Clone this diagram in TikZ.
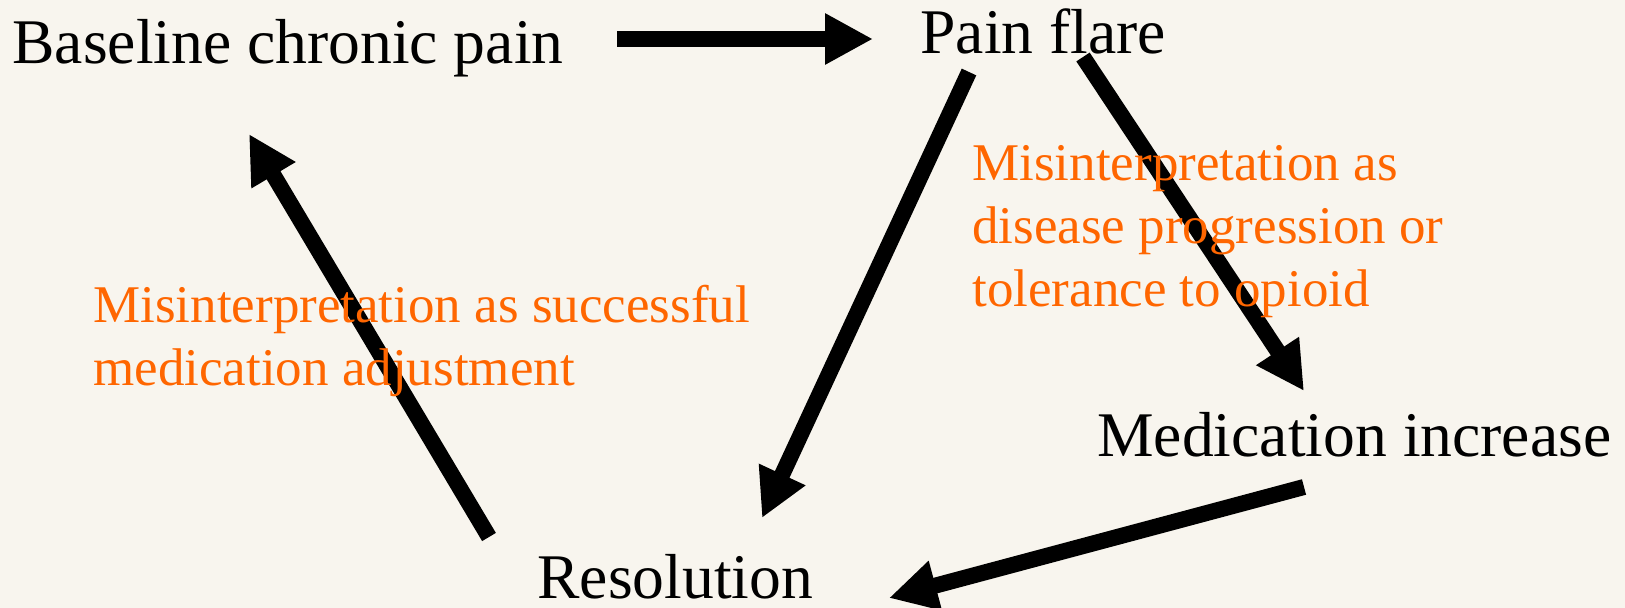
\documentclass[tikz,border=0pt]{standalone}
\usepackage{fontspec}
\setmainfont{Liberation Serif}
\usepackage{tikz}
\usetikzlibrary{arrows.meta}
\definecolor{bgcream}{HTML}{F8F5EE}
\definecolor{misorange}{HTML}{FF6600}

\begin{document}
\begin{tikzpicture}[x=0.5pt,y=-0.5pt,
    stage/.style={anchor=base west,inner sep=0pt,font=\fontsize{31.8}{38}\selectfont},
    note/.style={anchor=base west,inner sep=0pt,align=left,text=misorange,font=\fontsize{26.5}{31.5}\selectfont},
    flow/.style={line width=8pt,-{Triangle[length=24pt,width=24pt]}}]
    \fill[bgcream] (0,0) rectangle (1625,608);
    \useasboundingbox (0,0) rectangle (1625,608);

    \node[stage] (baseline) at (12,64) {Baseline chronic pain};
    \node[stage] (flare) at (920,54) {Pain flare};
    \node[stage] (increase) at (1097,456) {Medication increase};
    \node[stage] (resolution) at (537,598) {Resolution};

    \coordinate (baselineOut) at (617,39);
    \coordinate (flareIn) at (873,39);
    \coordinate (flareOutL) at (969,72);
    \coordinate (flareOutR) at (1083,57);
    \coordinate (increaseIn) at (1304,391);
    \coordinate (increaseOut) at (1304,487);
    \coordinate (resolutionInT) at (762,518);
    \coordinate (resolutionInR) at (889,598);
    \coordinate (resolutionOut) at (489,537);
    \coordinate (baselineIn) at (249,134);

    \draw[flow] (baselineOut) -- (flareIn);
    \draw[flow] (flareOutL) -- (resolutionInT);
    \draw[flow] (flareOutR) -- (increaseIn);
    \draw[flow] (increaseOut) -- (resolutionInR);
    \draw[flow] (resolutionOut) -- (baselineIn);

    % base anchor sits on the last line
    \node[note] (successNote) at (93,386) {Misinterpretation as successful\\medication adjustment};
    \node[note] (toleranceNote) at (972,307) {Misinterpretation as\\disease progression or\\tolerance to opioid};
\end{tikzpicture}
\end{document}
